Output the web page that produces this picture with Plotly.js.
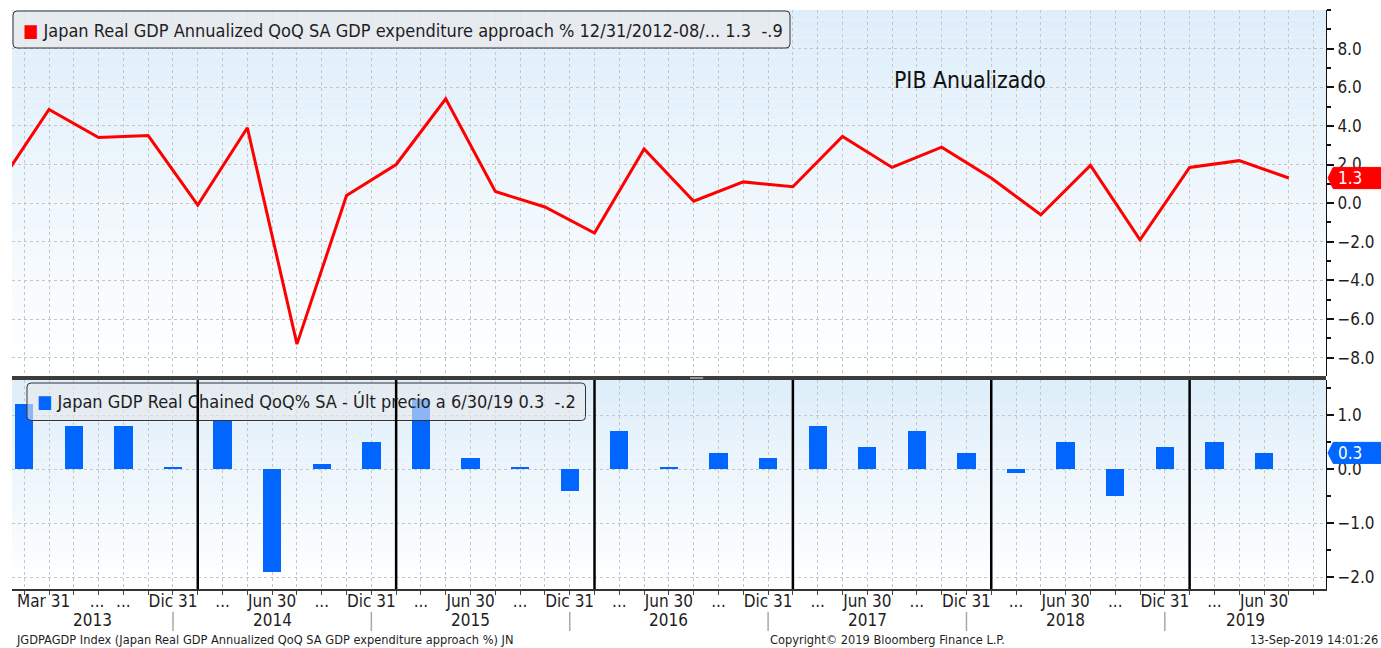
<!DOCTYPE html>
<html>
<head>
<meta charset="utf-8">
<script src="https://cdn.plot.ly/plotly-3.0.1.min.js"></script>
<style>
  html, body { margin: 0; padding: 0; background: #ffffff; }
  #chart { width: 1381px; height: 648px; }
</style>
</head>
<body>
<div id="chart"></div>
<script>
// ---------------- DATA ----------------
const quarters = [
  '2012-12-31',
  '2013-03-31', '2013-06-30', '2013-09-30', '2013-12-31',
  '2014-03-31', '2014-06-30', '2014-09-30', '2014-12-31',
  '2015-03-31', '2015-06-30', '2015-09-30', '2015-12-31',
  '2016-03-31', '2016-06-30', '2016-09-30', '2016-12-31',
  '2017-03-31', '2017-06-30', '2017-09-30', '2017-12-31',
  '2018-03-31', '2018-06-30', '2018-09-30', '2018-12-31',
  '2019-03-31', '2019-06-30'
];
// Japan Real GDP Annualized QoQ SA (%)
const gdpAnnualized = [
  1.0,
  4.85, 3.4, 3.5, -0.1,
  3.9, -7.3, 0.4, 2.0,
  5.4, 0.6, -0.2, -1.55,
  2.8, 0.1, 1.1, 0.85,
  3.45, 1.85, 2.9, 1.3,
  -0.6, 1.95, -1.9, 1.85,
  2.2, 1.3
];
// Japan GDP Real Chained QoQ% SA
const gdpQoQ = [
  null,
  1.2, 0.8, 0.8, 0.03,
  0.9, -1.9, 0.1, 0.5,
  1.3, 0.2, 0.03, -0.4,
  0.7, 0.03, 0.3, 0.2,
  0.8, 0.4, 0.7, 0.3,
  -0.08, 0.5, -0.5, 0.4,
  0.5, 0.3
];
const tickLabels = [
  'Mar 31', '...', '...', 'Dic 31',
  '...', 'Jun 30', '...', 'Dic 31',
  '...', 'Jun 30', '...', 'Dic 31',
  '...', 'Jun 30', '...', 'Dic 31',
  '...', 'Jun 30', '...', 'Dic 31',
  '...', 'Jun 30', '...', 'Dic 31',
  '...', 'Jun 30'
];
const years = ['2013', '2014', '2015', '2016', '2017', '2018', '2019'];
const legendTop = 'Japan Real GDP Annualized QoQ SA GDP expenditure approach % 12/31/2012-08/... 1.3&nbsp;&nbsp;-.9';
const legendBottom = 'Japan GDP Real Chained QoQ% SA - Últ precio a 6/30/19 0.3&nbsp;&nbsp;-.2';
const chartNote = 'PIB Anualizado';
const footerLeft = 'JGDPAGDP Index (Japan Real GDP Annualized QoQ SA GDP expenditure approach %) JN';
const footerMid = 'Copyright© 2019 Bloomberg Finance L.P.';
const footerRight = '13-Sep-2019 14:01:26';

// ---------------- LAYOUT HELPERS ----------------
const FONT = '"DejaVu Sans Condensed", "DejaVu Sans", sans-serif';
const W = 1314, H = 579;            // plot area size in px (for paper conversions)
const idx = quarters.map((q, i) => i);
const barX = idx.map(i => i - 0.5);
const xRange = [0.254, 26.75];
const topDomain = [0.3679, 1];
const botDomain = [0, 0.361];
const gridColor = '#c6c6c6';
const RED = '#ff0000';
const BLUE = '#0066ff';

// tick label positions: half a quarter before each quarter end (first two shifted as in original)
const tickPos = tickLabels.map((t, i) => i + 0.5);
tickPos[0] = 0.89;
tickPos[1] = 1.97;

// year boundaries (Dec 31 quarters)
const decIdx = idx.filter(i => quarters[i].endsWith('12-31') && i > 0);
const yearSep = decIdx.map(i => i - 0.5);

const shapes = [];
// background gradients
function gradient(y0, y1, n) {
  for (let k = 0; k < n; k++) {
    const t = k / (n - 1);
    const r = Math.round(222 + (255 - 222) * t);
    const g = Math.round(238 + (255 - 238) * t);
    const b = Math.round(250 + (255 - 250) * t);
    const ya = y1 - (y1 - y0) * k / n;
    const yb = y1 - (y1 - y0) * (k + 1) / n;
    shapes.push({type: 'rect', xref: 'paper', yref: 'paper', x0: 0, x1: 1, y0: yb, y1: ya,
      fillcolor: `rgb(${r},${g},${b})`, line: {width: 0}, layer: 'below'});
  }
}
gradient(topDomain[0], topDomain[1], 40);
gradient(botDomain[0], botDomain[1], 30);

// rounded legend boxes (pixel extents converted to paper units)
function roundBox(px0, py0, px1, py1, fill) {
  const x0 = (px0 - 12) / W, x1 = (px1 - 12) / W;
  const y0 = (589 - py1) / H, y1 = (589 - py0) / H;
  const rx = 4 / W, ry = 4 / H;
  const p = `M ${x0 + rx},${y1} L ${x1 - rx},${y1} Q ${x1},${y1} ${x1},${y1 - ry} ` +
    `L ${x1},${y0 + ry} Q ${x1},${y0} ${x1 - rx},${y0} L ${x0 + rx},${y0} Q ${x0},${y0} ${x0},${y0 + ry} ` +
    `L ${x0},${y1 - ry} Q ${x0},${y1} ${x0 + rx},${y1} Z`;
  shapes.push({type: 'path', xref: 'paper', yref: 'paper', path: p, fillcolor: fill,
    line: {color: '#333333', width: 1}, layer: 'above'});
}
roundBox(13, 11, 790, 48, 'rgba(232,234,237,0.85)');
roundBox(27, 383, 585.5, 420.5, 'rgba(232,234,237,0.6)');

// year divider lines in lower panel
decIdx.forEach(i => {
  shapes.push({type: 'line', xref: 'x', yref: 'paper', x0: i, x1: i, y0: botDomain[0], y1: botDomain[1],
    line: {color: '#000000', width: 2.5}, layer: 'above'});
});
// panel splitter
shapes.push({type: 'line', xref: 'paper', yref: 'paper', x0: 0, x1: 1, y0: 0.3645, y1: 0.3645,
  line: {color: '#3c3c3c', width: 4}});
shapes.push({type: 'rect', xref: 'paper', yref: 'paper', x0: 0.516, x1: 0.526, y0: 0.3628, y1: 0.3662,
  fillcolor: '#9a9a9a', line: {width: 0}});
// year label separators
yearSep.forEach(x => {
  shapes.push({type: 'line', xref: 'x', yref: 'paper', x0: x, x1: x, y0: -0.0395, y1: -0.0725,
    line: {color: '#a8a8a8', width: 1.5}});
});

// last-value tags on the right axis
function tag(yref, v, h, color) {
  const xa = 1.0015, xb = 1.0055, xc = 1.05;
  shapes.push({type: 'path', xref: 'paper', yref: yref,
    path: `M ${xa},${v} L ${xb},${v + h} L ${xc},${v + h} L ${xc},${v - h} L ${xb},${v - h} Z`,
    fillcolor: color, line: {color: color, width: 1}});
}
const lastLine = gdpAnnualized[gdpAnnualized.length - 1];
const lastBar = gdpQoQ[gdpQoQ.length - 1];
tag('y', lastLine, 0.55, RED);
tag('y2', lastBar, 0.195, BLUE);

const annotations = [];
// legends
annotations.push({xref: 'paper', yref: 'paper', x: (21 - 12) / W, y: (589 - 30) / H, xanchor: 'left', yanchor: 'middle',
  text: `<span style="color:${RED}">■</span> ${legendTop}`, showarrow: false, align: 'left',
  font: {family: FONT, size: 18, color: '#1e1e1e'}});
annotations.push({xref: 'paper', yref: 'paper', x: (35 - 12) / W, y: (589 - 401.5) / H, xanchor: 'left', yanchor: 'middle',
  text: `<span style="color:${BLUE}">■</span> ${legendBottom}`, showarrow: false, align: 'left',
  font: {family: FONT, size: 18, color: '#1e1e1e'}});
// note
annotations.push({xref: 'paper', yref: 'paper', x: (892 - 12) / W, y: (589 - 80) / H, xanchor: 'left', yanchor: 'middle',
  text: chartNote, showarrow: false, font: {family: FONT, size: 22.8, color: '#111111'}});
// tag values
annotations.push({xref: 'paper', yref: 'y', x: 1.0075, y: lastLine, xanchor: 'left', yanchor: 'middle',
  text: lastLine.toFixed(1), showarrow: false, font: {family: FONT, size: 17, color: '#ffffff'}});
annotations.push({xref: 'paper', yref: 'y2', x: 1.0075, y: lastBar, xanchor: 'left', yanchor: 'middle',
  text: lastBar.toFixed(1), showarrow: false, font: {family: FONT, size: 17, color: '#ffffff'}});
// year labels
years.forEach((yr, k) => {
  const a = k === 0 ? xRange[0] : yearSep[k - 1];
  const b = k === years.length - 1 ? xRange[1] : yearSep[k];
  annotations.push({xref: 'x', yref: 'paper', x: (a + b) / 2, y: -0.0535, xanchor: 'center', yanchor: 'middle',
    text: yr, showarrow: false, font: {family: FONT, size: 17, color: '#1e1e1e'}});
});
// footer
annotations.push({xref: 'paper', yref: 'paper', x: 0.0015, y: -0.0865, xanchor: 'left', yanchor: 'middle',
  text: footerLeft, showarrow: false, font: {family: FONT, size: 12.7, color: '#1e1e1e'}});
annotations.push({xref: 'paper', yref: 'paper', x: (768 - 12) / W, y: -0.0865, xanchor: 'left', yanchor: 'middle',
  text: footerMid, showarrow: false, font: {family: FONT, size: 12.7, color: '#1e1e1e'}});
annotations.push({xref: 'paper', yref: 'paper', x: 1.041, y: -0.0865, xanchor: 'right', yanchor: 'middle',
  text: footerRight, showarrow: false, font: {family: FONT, size: 12.7, color: '#1e1e1e'}});

const traces = [
  {type: 'scatter', mode: 'lines', x: idx, y: gdpAnnualized, xaxis: 'x2', yaxis: 'y',
    line: {color: RED, width: 3}, showlegend: false, hoverinfo: 'x+y'},
  {type: 'bar', x: barX, y: gdpQoQ, xaxis: 'x', yaxis: 'y2', width: 0.37,
    marker: {color: BLUE, line: {width: 0}}, showlegend: false},
  {type: 'scatter', mode: 'markers', x: [], y: [], xaxis: 'x3', yaxis: 'y2', showlegend: false}
];

const layout = {
  width: 1381, height: 648,
  margin: {l: 12, r: 55, t: 10, b: 59},
  paper_bgcolor: '#ffffff', plot_bgcolor: 'rgba(0,0,0,0)',
  font: {family: FONT, size: 17, color: '#1e1e1e'},
  showlegend: false,
  bargap: 0,
  xaxis: {domain: [0, 1], anchor: 'y2', range: xRange, tickmode: 'linear', tick0: 0, dtick: 0.5,
    ticks: 'outside', ticklen: 4, tickcolor: '#444', showticklabels: false,
    showgrid: true, gridcolor: gridColor, griddash: 'dot', gridwidth: 1,
    showline: true, linecolor: '#333333', linewidth: 1.5, zeroline: false, fixedrange: true},
  xaxis2: {domain: [0, 1], anchor: 'y', matches: 'x', range: xRange, tickmode: 'linear', tick0: 0, dtick: 0.5,
    ticks: '', showticklabels: false, showgrid: true, gridcolor: gridColor, griddash: 'dot', gridwidth: 1,
    showline: false, zeroline: false},
  xaxis3: {overlaying: 'x', anchor: 'y2', side: 'bottom', range: xRange, tickmode: 'array',
    tickvals: tickPos, ticktext: tickLabels, ticks: '', showgrid: false, showline: false, zeroline: false,
    tickfont: {family: FONT, size: 17, color: '#1e1e1e'}},
  yaxis: {domain: topDomain, anchor: 'x2', side: 'right', range: [-8.95, 10],
    tickmode: 'array', tickvals: [-8, -6, -4, -2, 0, 2, 4, 6, 8], tickformat: '.1f',
    ticks: 'outside', ticklen: 7, tickwidth: 2, tickcolor: '#111',
    minor: {tickmode: 'linear', tick0: 0, dtick: 1, ticks: 'outside', ticklen: 4, tickcolor: '#111', showgrid: false},
    showgrid: true, gridcolor: gridColor, griddash: 'dot', gridwidth: 1,
    showline: true, linecolor: '#111', linewidth: 1, zeroline: false,
    tickfont: {family: FONT, size: 17, color: '#1e1e1e'}},
  yaxis2: {domain: botDomain, anchor: 'x', side: 'right', range: [-2.22, 1.65],
    tickmode: 'array', tickvals: [-2, -1, 0, 1], tickformat: '.1f',
    ticks: 'outside', ticklen: 7, tickwidth: 2, tickcolor: '#111',
    minor: {tickmode: 'linear', tick0: 0, dtick: 0.5, ticks: 'outside', ticklen: 4, tickcolor: '#111', showgrid: false},
    showgrid: true, gridcolor: gridColor, griddash: 'dot', gridwidth: 1,
    showline: true, linecolor: '#111', linewidth: 1, zeroline: false,
    tickfont: {family: FONT, size: 17, color: '#1e1e1e'}},
  shapes: shapes,
  annotations: annotations
};

Plotly.newPlot('chart', traces, layout, {staticPlot: true, displayModeBar: false});
</script>
</body>
</html>
